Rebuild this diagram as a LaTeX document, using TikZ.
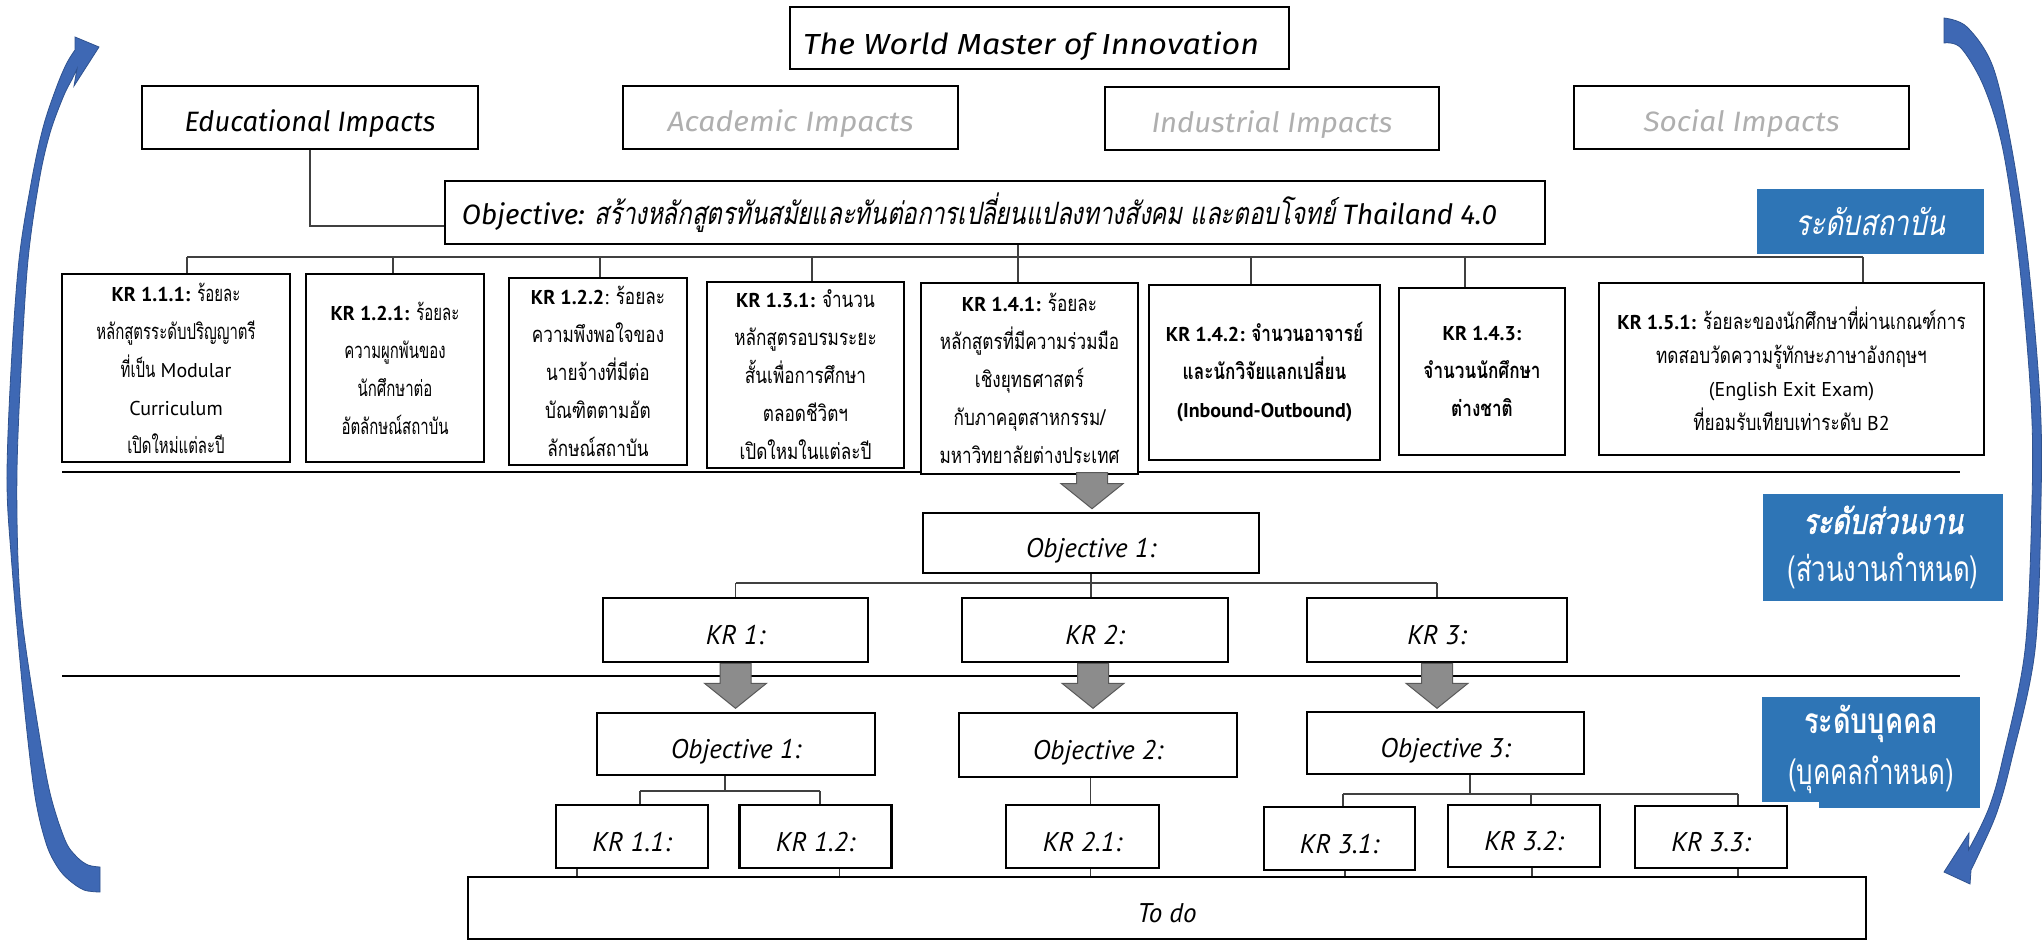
\documentclass[tikz,border=0pt]{standalone}
\usepackage{fontspec}
\usepackage{graphicx}
\usetikzlibrary{calc}
\setmainfont{PT Sans}
\newfontfamily\topf{Fira Sans}
\newfontfamily\thf{Loma}[Script=Thai, Scale=1.1, FakeStretch=0.78, ItalicFont=Loma, ItalicFeatures={FakeSlant=0.2}, BoldItalicFont=Loma, BoldItalicFeatures={FakeSlant=0.2,FakeBold=1.5}]
\newfontfamily\thfn{Loma}[Script=Thai, Scale=1.1, FakeStretch=0.68]
\definecolor{lblue}{RGB}{46,117,182}
\definecolor{arrblue}{RGB}{62,104,180}
\definecolor{arrdark}{RGB}{47,82,143}
\definecolor{impgray}{RGB}{175,175,175}
\definecolor{garrow}{RGB}{140,140,140}
\newcommand{\grarrow}[2]{\path[garr] ($(#1)+(-15.5,-#2)$) -- ($(#1)+(15.5,-#2)$) -- ($(#1)+(15.5,-25)$) -- ($(#1)+(31,-25)$) -- (#1) -- ($(#1)+(-31,-25)$) -- ($(#1)+(-15.5,-25)$) -- cycle;}
\tikzset{
  bx/.style={draw, line width=1.3pt, fill=white, inner sep=0pt},
  sz/.style 2 args={minimum width=#1*0.5pt, minimum height=#2*0.5pt},
  krb/.style={bx, align=center, font=\fontsize{10}{15}\selectfont},
  topt/.style={font=\fontsize{14}{17}\selectfont\topf\itshape, text height=14.25pt, text depth=0pt},
  midt/.style={font=\fontsize{13.5}{16}\selectfont\itshape, text height=14.5pt, text depth=0pt},
  conn/.style={line width=0.6pt, draw=black!75},
  sepl/.style={line width=1.3pt},
  lab/.style={fill=lblue, text=white, inner sep=0pt, align=center},
  garr/.style={fill=garrow, draw=black!65, line width=0.5pt},
  barr/.style={fill=arrblue, draw=arrdark, line width=0.4pt}
}
\begin{document}
\begin{tikzpicture}[x=0.5pt,y=-0.5pt]
\useasboundingbox (0,0) rectangle (2044,942);
\fill[white] (0,0) rectangle (2044,942);
% separator lines
\coordinate (sa) at (62,472); \coordinate (sb) at (1960,472);
\coordinate (sc) at (62,676); \coordinate (sd) at (1960,676);
\draw[sepl] (sa) -- (sb);
\draw[sepl] (sc) -- (sd);

% top boxes
\node[bx, sz={499}{62}, topt, font=\fontsize{14.5}{17}\selectfont\topf\itshape, text height=16.6pt] (wm) at (1039.5,38) {\resizebox{228pt}{\height}{The World Master of Innovation}\kern8.5pt};
\node[bx, sz={336}{63}, topt] (ed) at (310,117.5) {\resizebox{125.5pt}{\height}{Educational Impacts}};
\node[bx, sz={335}{63}, topt, text=impgray] (ac) at (790.5,117.5) {\resizebox{123pt}{\height}{Academic Impacts}};
\node[bx, sz={334}{63}, topt, text=impgray] (ind) at (1272,118.5) {\resizebox{120.5pt}{\height}{Industrial Impacts}};
\node[bx, sz={335}{63}, topt, text=impgray] (soc) at (1741.5,117.5) {\resizebox{98pt}{\height}{Social Impacts}};
\node[bx, sz={1100}{63}, topt, text height=11.7pt] (obj) at (995,212.5) {\resizebox{517.5pt}{\height}{Objective: {\thf\itshape สร้างหลักสูตรทันสมัยและทันต่อการเปลี่ยนแปลงทางสังคม และตอบโจทย์} Thailand 4.0}\kern15.5pt};

% connectors top
\draw[conn] (ed.south) |- ($(obj.west)+(0,13.5)$);
\coordinate (d1) at (187,257); \coordinate (d2) at (393,257);
\coordinate (d3) at (600,257); \coordinate (d4) at (812,257);
\coordinate (d5) at (1018,257); \coordinate (d6) at (1251,257);
\coordinate (d7) at (1465,257); \coordinate (d8) at (1863,257);
\draw[conn] (d1) -- (d8);
\draw[conn] (obj.south -| d5) -- (d5);

% KR row
\node[krb, sz={228}{188}] (k111) at (176,368) {{\bfseries KR 1.1.1:} {\thfn ร้อยละ}\\[4pt]{\thfn หลักสูตรระดับปริญญาตรี}\\[4pt]{\thfn ที่เป็น} Modular\\[4pt]Curriculum\\[4pt]{\thfn เปิดใหม่แต่ละปี}};
\node[krb, sz={178}{188}] (k121) at (395,368) {{\bfseries KR 1.2.1:} {\thfn ร้อยละ}\\[4pt]{\thfn ความผูกพันของ}\\[4pt]{\thfn นักศึกษาต่อ}\\[4pt]{\thfn อัตลักษณ์สถาบัน}};
\node[krb, sz={178}{187}] (k122) at (598,371.5) {{\bfseries KR 1.2.2}: {\thf ร้อยละ}\\[4pt]{\thf ความพึงพอใจของ}\\[4pt]{\thf นายจ้างที่มีต่อ}\\[4pt]{\thf บัณฑิตตามอัต}\\[4pt]{\thf ลักษณ์สถาบัน}};
\node[krb, sz={197}{186}] (k131) at (805.5,375) {{\bfseries KR 1.3.1:} {\thf จำนวน}\\[4pt]{\thf หลักสูตรอบรมระยะ}\\[4pt]{\thf สั้นเพื่อการศึกษา}\\[4pt]{\thf ตลอดชีวิตฯ}\\[4pt]{\thf เปิดใหมในแต่ละปี}};
\node[krb, sz={217}{191}] (k141) at (1029.5,378.5) {{\bfseries KR 1.4.1:} {\thf ร้อยละ}\\[4pt]{\thf หลักสูตรที่มีความร่วมมือ}\\[4pt]{\thf เชิงยุทธศาสตร์}\\[4pt]{\thf กับภาคอุตสาหกรรม/}\\[4pt]{\thf มหาวิทยาลัยต่างประเทศ}};
\node[krb, sz={231}{175}, font=\fontsize{10}{15}\selectfont\bfseries] (k142) at (1264.5,372.5) {KR 1.4.2: {\thf จำนวนอาจารย์}\\[4pt]{\thf และนักวิจัยแลกเปลี่ยน}\\[4pt](Inbound-Outbound)};
\node[krb, sz={166}{167}, font=\fontsize{10}{15}\selectfont\bfseries] (k143) at (1482,371.5) {KR 1.4.3:\\[4pt]{\thf จำนวนนักศึกษา}\\[4pt]{\thf ต่างชาติ}};
\node[krb, sz={385}{172}] (k151) at (1791.5,369) {{\bfseries KR 1.5.1:} {\thf ร้อยละของนักศึกษาที่ผ่านเกณฑ์การ}\\[1.75pt]{\thf ทดสอบวัดความรู้ทักษะภาษาอังกฤษฯ}\\[1.75pt](English Exit Exam)\\[1.75pt]{\thf ที่ยอมรับเทียบเท่าระดับ} B2};

\draw[conn] (d1) -- (d1 |- k111.north);
\draw[conn] (d2) -- (d2 |- k121.north);
\draw[conn] (d3) -- (d3 |- k122.north);
\draw[conn] (d4) -- (d4 |- k131.north);
\draw[conn] (d5) -- (d5 |- k141.north);
\draw[conn] (d6) -- (d6 |- k142.north);
\draw[conn] (d7) -- (d7 |- k143.north);
\draw[conn] (d8) -- (d8 |- k151.north);

% unit level
\node[bx, sz={336}{60}, midt] (o1u) at (1091,543) {Objective 1:};
\node[bx, sz={265}{64}, midt] (kr1) at (735.5,630) {KR 1:};
\node[bx, sz={266}{64}, midt] (kr2) at (1095,630) {KR 2:};
\node[bx, sz={260}{64}, midt] (kr3) at (1437,630) {KR 3:};
\coordinate (m1) at (735.5,583); \coordinate (m3) at (1437,583);
\draw[conn] (m1) -- (m3);
\draw[conn] (m1) -- (m1 |- kr1.north);
\draw[conn] (m3) -- (m3 |- kr3.north);
\draw[conn] (o1u.south) -- (o1u.south |- kr2.north);

% individual level
\node[bx, sz={278}{62}, midt] (o1) at (736,744) {Objective 1:};
\node[bx, sz={278}{64}, midt] (o2) at (1098,745) {Objective 2:};
\node[bx, sz={277}{62}, midt] (o3) at (1445.5,743) {Objective 3:};
\node[bx, sz={152}{63}, midt] (k11) at (632,836.5) {KR 1.1:};
\node[bx, sz={152}{63}, midt] (k12) at (815.5,836.5) {KR 1.2:};
\node[bx, sz={153}{63}, midt] (k21) at (1082.5,836.5) {KR 2.1:};
\node[bx, sz={151}{63}, midt] (k31) at (1339.5,838.5) {KR 3.1:};
\node[bx, sz={152}{62}, midt] (k32) at (1524,836) {KR 3.2:};
\node[bx, sz={152}{62}, midt] (k33) at (1711,837) {KR 3.3:};
\node[bx, sz={1398}{62}, midt] (todo) at (1167,908) {To do};

\coordinate (p0) at (725,791); \coordinate (p1) at (640,791); \coordinate (p2) at (820,791);
\draw[conn] (p0 |- o1.south) -- (p0);
\draw[conn] (p1) -- (p2);
\draw[conn] (p1) -- (p1 |- k11.north);
\draw[conn] (p2) -- (p2 |- k12.north);
\coordinate (q0) at (1090.5,791);
\draw[conn] (q0 |- o2.south) -- (q0 |- k21.north);
\coordinate (r0) at (1470,794); \coordinate (r1) at (1343,794);
\coordinate (r2) at (1531,794); \coordinate (r3) at (1738,794);
\draw[conn] (r0 |- o3.south) -- (r0);
\draw[conn] (r1) -- (r3);
\draw[conn] (r1) -- (r1 |- k31.north);
\draw[conn] (r2) -- (r2 |- k32.north);
\draw[conn] (r3) -- (r3 |- k33.north);
\coordinate (e1) at (577,0); \coordinate (e2) at (839.5,0); \coordinate (e3) at (1090.5,0);
\coordinate (e4) at (1345,0); \coordinate (e5) at (1532,0); \coordinate (e6) at (1738,0);
\draw[conn] (e1 |- k11.south) -- (e1 |- todo.north);
\draw[conn] (e2 |- k12.south) -- (e2 |- todo.north);
\draw[conn] (e3 |- k21.south) -- (e3 |- todo.north);
\draw[conn] (e4 |- k31.south) -- (e4 |- todo.north);
\draw[conn] (e5 |- k32.south) -- (e5 |- todo.north);
\draw[conn] (e6 |- k33.south) -- (e6 |- todo.north);

% grey block arrows
\coordinate (t0) at ($(o1u.north)+(1,-3)$);
\coordinate (t1) at ($(kr1.south)+(0,45)$);
\coordinate (t2) at ($(kr2.south)+(-2,45)$);
\coordinate (t3) at ($(kr3.south)+(0,45)$);
\grarrow{t0}{36}
\grarrow{t1}{45}
\grarrow{t2}{45}
\grarrow{t3}{45}

% level labels
\fill[lblue] (1819,798) rectangle (1980,808);
\node[lab, sz={227}{65}, font=\fontsize{16}{18}\selectfont] (lab1) at (1870.5,221.5) {\resizebox{75pt}{\height}{\thf\itshape ระดับสถาบัน}};
\node[lab, sz={240}{107}, font=\fontsize{16}{24}\selectfont] (lab2) at (1883,547.5) {\resizebox{80pt}{\height}{\thf\bfseries\itshape ระดับส่วนงาน}\\\resizebox{95.5pt}{\height}{\thf (ส่วนงานกำหนด)}};
\node[lab, sz={218}{105}, font=\fontsize{16}{25.5}\selectfont] (lab3) at (1871,749.5) {\resizebox{67pt}{\height}{\thf\bfseries ระดับบุคคล}\\\resizebox{83pt}{\height}{\thf (บุคคลกำหนด)}};

% blue curved arrows
\path[barr] plot[smooth, tension=0.55] coordinates {(100,892) (84,890) (69,880) (57.5,867) (46,843) (34.5,793) (23,693) (11.5,560) (7,480) (11,370) (19,260) (31.7,180) (43.3,126.7) (56.7,86.7) (66.7,63.3) (75,50)}
  -- (75,37) -- (99,47) -- (74,86) -- (77,69)
  -- plot[smooth, tension=0.55] coordinates {(71.7,80) (63.3,96.7) (50,133) (39.3,180) (28,260) (21,370) (17,470) (18,560) (23,627) (38,727) (50,793) (65,840) (76.6,856.7) (88,865) (100,867)}
  -- cycle;
\path[barr] plot[smooth, tension=0.55] coordinates {(1944,18) (1967,27) (1993,67) (2012,150) (2028,260) (2040,400) (2041,500) (2035,650) (2011,762) (1997,812) (1981,849) (1971,870)}
  -- (1970,884) -- (1944,872) -- (1969,833) -- (1968.5,850)
  -- plot[smooth, tension=0.55] coordinates {(1977,834) (1990,805) (2002,762) (2025,650) (2032,500) (2031,400) (2019,260) (2003,150) (1984,87) (1961,48) (1944,43)}
  -- cycle;
\end{tikzpicture}
\end{document}
